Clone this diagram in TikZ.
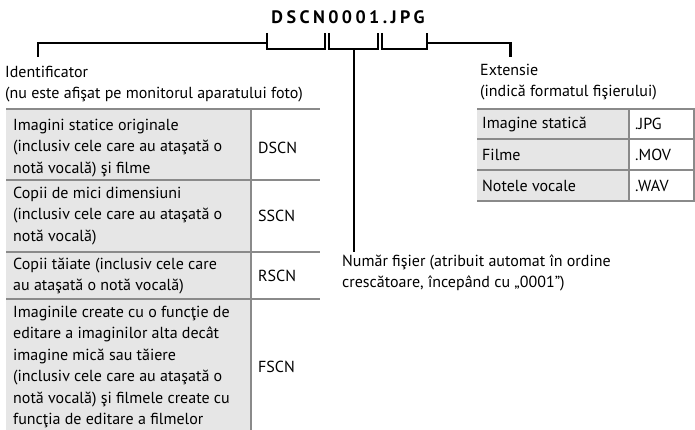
\documentclass[tikz,border=0pt]{standalone}
\usepackage{fontspec}
\setmainfont{PT Sans}
\newfontfamily\titlefont[LetterSpace=19]{PT Sans}
\usetikzlibrary{positioning}
\definecolor{RuleGray}{RGB}{138,138,138}
\definecolor{CellGray}{RGB}{230,230,230}

\begin{document}
\begin{tikzpicture}[x=1pt, y=-1pt,
  every node/.style={font=\fontsize{16}{21.5}\selectfont, inner sep=0pt, align=left},
  bracket/.style={line width=2.2pt},
  rule/.style={RuleGray, line width=2.6pt},
  divider/.style={RuleGray, line width=2pt}]
  \useasboundingbox (0,0) rectangle (695,430);

  % file name and its brackets
  \node[font=\titlefont\bfseries\fontsize{18}{20}\selectfont] (title) at (348,17.5) {DSCN0001.JPG};
  \draw[bracket] (267,33) -- (267,49) -- (325,49) -- (325,33);
  \draw[bracket] (329,33) -- (329,49) -- (378,49) -- (378,33);
  \draw[bracket] (382,33) -- (382,49) -- (427,49) -- (427,33);
  \coordinate (b1) at (267,43);
  \coordinate (b2) at (354,49);
  \coordinate (b3) at (427,43);
  \coordinate (idstem) at (38,57);
  \coordinate (numstem) at (354,252);
  \coordinate (extstem) at (510.5,57);
  \draw[bracket] (b1) -| (idstem);
  \draw[bracket] (b2) -- (numstem);
  \draw[bracket] (b3) -| (extstem);

  % labels
  \node[anchor=west] (ident) at (5,84) {Identificator\\(nu este afişat pe monitorul aparatului foto)};
  \node[anchor=west] (ext) at (480,82) {Extensie\\(indică formatul fişierului)};
  \node[anchor=west] (num) at (342,273) {Număr fişier (atribuit automat în ordine\\crescătoare, începând cu „0001”)};

  % identifier table
  \fill[CellGray] (6,109) rectangle (251,430);
  \foreach \y in {109,180,252,299}
    \draw[rule] (6,\y) -- (320,\y);
  \draw[divider] (251,109) -- (251,430);
  \node[anchor=west] (orig) at (13,148) {Imagini statice originale\\(inclusiv cele care au ataşată o\\notă vocală) şi filme};
  \node[anchor=west] (dscn) at (258,148) {DSCN};
  \node[anchor=west] (small) at (13,216) {Copii de mici dimensiuni\\(inclusiv cele care au ataşată o\\notă vocală)};
  \node[anchor=west] (sscn) at (258,216) {SSCN};
  \node[anchor=west] (crop) at (13,276) {Copii tăiate (inclusiv cele care\\au ataşată o notă vocală)};
  \node[anchor=west] (rscn) at (258,276) {RSCN};
  \node[anchor=west] (edit) at (13,367) {Imaginile create cu o funcţie de\\editare a imaginilor alta decât\\imagine mică sau tăiere\\(inclusiv cele care au ataşată o\\notă vocală) şi filmele create cu\\funcţia de editare a filmelor};
  \node[anchor=west] (fscn) at (258,367) {FSCN};

  % extension table
  \fill[CellGray] (477,109) rectangle (629,201);
  \foreach \y in {109,139,170,201}
    \draw[rule] (477,\y) -- (695,\y);
  \draw[divider] (629,109) -- (629,201);
  \draw[divider] (694,109) -- (694,201);
  \node[anchor=west] (still) at (482,124) {Imagine statică};
  \node[anchor=west] (jpg) at (635,124) {.JPG};
  \node[anchor=west] (movie) at (482,154.5) {Filme};
  \node[anchor=west] (mov) at (635,154.5) {.MOV};
  \node[anchor=west] (voice) at (482,185.5) {Notele vocale};
  \node[anchor=west] (wav) at (635,185.5) {.WAV};
\end{tikzpicture}
\end{document}
